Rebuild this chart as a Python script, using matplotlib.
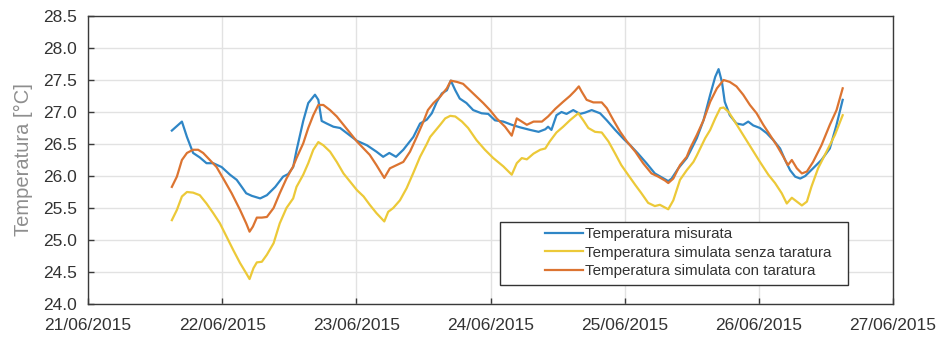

import numpy as np
import matplotlib
matplotlib.use('Agg')
import matplotlib.pyplot as plt
import matplotlib.dates as mdates
import pandas as pd
from matplotlib.patches import Rectangle

plt.rcParams['font.family'] = ['Liberation Sans', 'DejaVu Sans']

# Hours since 21/06/2015 00:00 and temperatures [°C]
ore_misurata = [15.0, 16.8, 17.7, 18.8, 20.0, 21.2, 22.4, 23.9, 25.4, 26.6, 27.5, 28.3, 29.3, 30.8,
                32.0, 33.5, 34.9, 35.8, 36.7, 37.3, 38.5, 39.4, 40.6, 41.2, 41.8, 42.7, 43.9, 45.1,
                46.3, 48.1, 49.9, 51.6, 52.8, 53.9, 55.1, 56.4, 58.2, 59.4, 60.6, 61.5, 62.4, 63.3,
                64.2, 64.9, 65.7, 66.5, 67.7, 68.9, 70.4, 71.6, 72.8, 74.3, 75.8, 77.3, 79.1, 80.6,
                81.8, 82.3, 82.9, 83.8, 84.7, 85.6, 86.8, 88.0, 88.9, 90.1, 91.6, 92.8, 94.3, 95.8,
                97.0, 98.4, 99.9, 101.4, 102.6, 103.8, 104.4, 105.6, 107.1, 107.7, 108.9, 110.1,
                111.3, 112.2, 112.8, 113.4, 113.9, 114.8, 116.0, 117.2, 118.1, 119.0, 120.2, 121.4,
                122.6, 123.8, 124.7, 125.6, 126.5, 127.4, 128.3, 129.7, 131.2, 132.7, 133.9, 135.0]
t_misurata = [26.71, 26.85, 26.61, 26.36, 26.29, 26.20, 26.20, 26.14, 26.02, 25.94, 25.83, 25.73, 25.69, 25.65,
              25.70, 25.83, 25.99, 26.03, 26.14, 26.40, 26.86, 27.14, 27.27, 27.19, 26.86, 26.82, 26.77, 26.75,
              26.67, 26.55, 26.48, 26.38, 26.30, 26.36, 26.30, 26.41, 26.61, 26.82, 26.88, 26.98, 27.16, 27.29,
              27.34, 27.49, 27.34, 27.21, 27.14, 27.03, 26.98, 26.97, 26.87, 26.85, 26.80, 26.76, 26.72, 26.69,
              26.73, 26.77, 26.72, 26.95, 27.00, 26.97, 27.03, 26.97, 26.99, 27.03, 26.98, 26.87, 26.72, 26.58,
              26.48, 26.35, 26.20, 26.04, 25.98, 25.92, 25.96, 26.12, 26.28, 26.38, 26.59, 26.87,
              27.27, 27.55, 27.67, 27.47, 27.16, 26.95, 26.82, 26.80, 26.85, 26.79, 26.75, 26.67,
              26.56, 26.43, 26.25, 26.09, 25.99, 25.96, 26.00, 26.12, 26.25, 26.43, 26.80, 27.19]

ore_senza = [15.0, 15.9, 16.8, 17.7, 18.8, 20.0, 21.2, 22.4, 23.6, 24.8, 26.0, 27.2, 28.3, 28.9,
             29.6, 30.2, 31.1, 32.0, 33.2, 34.3, 35.5, 36.7, 37.3, 38.5, 39.4, 40.3, 41.2, 42.1,
             43.3, 44.5, 45.7, 46.9, 48.1, 49.3, 50.4, 51.6, 53.0, 53.7, 54.6, 55.8, 57.0, 58.2,
             59.4, 60.6, 61.2, 63.0, 63.9, 64.8, 65.7, 66.9, 68.0, 69.5, 71.0, 72.5, 74.3, 75.8,
             76.7, 77.6, 78.5, 79.7, 80.9, 81.8, 82.6, 83.8, 85.0, 86.2, 87.7, 88.6, 89.5, 90.7,
             91.9, 93.1, 94.3, 95.4, 96.6, 97.9, 99.0, 100.2, 101.4, 102.3, 103.8, 104.7, 105.9,
             107.1, 108.3, 108.9, 110.4, 111.3, 112.2, 113.1, 113.7, 114.6, 115.7, 117.2, 118.7,
             120.2, 121.7, 122.9, 124.1, 125.0, 125.9, 126.8, 127.7, 128.6, 129.4, 130.6, 132.1,
             133.6, 135.0]
t_senza = [25.31, 25.47, 25.68, 25.75, 25.74, 25.70, 25.57, 25.42, 25.26, 25.05, 24.84, 24.64, 24.48, 24.39,
           24.56, 24.65, 24.66, 24.77, 24.95, 25.26, 25.50, 25.65, 25.83, 26.02, 26.20, 26.41, 26.53, 26.48,
           26.38, 26.22, 26.04, 25.91, 25.78, 25.68, 25.55, 25.42, 25.29, 25.44, 25.50, 25.62, 25.81, 26.05,
           26.30, 26.50, 26.61, 26.80, 26.90, 26.94, 26.93, 26.85, 26.75, 26.56, 26.41, 26.28, 26.15, 26.02,
           26.20, 26.28, 26.26, 26.35, 26.41, 26.43, 26.54, 26.68, 26.77, 26.87, 26.98, 26.87, 26.75, 26.69,
           26.68, 26.54, 26.35, 26.17, 26.02, 25.86, 25.73, 25.58, 25.53, 25.55, 25.48, 25.62, 25.94,
           26.09, 26.22, 26.32, 26.59, 26.72, 26.90, 27.06, 27.07, 27.00, 26.85, 26.64, 26.43,
           26.22, 26.02, 25.89, 25.73, 25.57, 25.66, 25.60, 25.54, 25.60, 25.83, 26.12, 26.38,
           26.64, 26.95]

ore_con = [15.0, 15.9, 16.8, 17.7, 18.8, 19.7, 20.6, 21.8, 23.0, 24.2, 25.7, 27.2, 28.3, 28.9,
           29.5, 30.2, 31.1, 32.0, 33.2, 34.3, 35.5, 36.7, 37.3, 38.5, 39.4, 40.3, 41.2, 42.1,
           43.3, 44.5, 45.7, 46.9, 48.1, 49.3, 50.4, 51.6, 53.0, 54.0, 55.2, 56.4, 57.6, 58.8,
           60.0, 60.8, 61.8, 63.0, 64.2, 64.9, 66.0, 67.1, 68.3, 69.5, 70.7, 71.9, 73.1, 74.6,
           75.8, 76.7, 77.6, 78.5, 79.7, 81.2, 82.3, 83.6, 85.0, 86.2, 87.1, 87.8, 88.3, 89.2,
           90.4, 91.9, 92.8, 94.0, 95.2, 96.4, 97.9, 99.3, 100.8, 102.0, 103.2, 103.8, 104.7,
           105.9, 107.1, 107.7, 108.9, 110.1, 111.3, 112.5, 113.7, 114.8, 116.0, 117.2, 118.4,
           119.6, 120.8, 122.0, 123.2, 124.4, 125.2, 125.9, 126.8, 127.7, 128.6, 129.7, 131.2,
           132.7, 133.9, 135.0]
t_con = [25.83, 25.99, 26.25, 26.36, 26.41, 26.41, 26.36, 26.25, 26.14, 25.96, 25.73, 25.47, 25.26, 25.13,
         25.21, 25.35, 25.35, 25.36, 25.50, 25.73, 25.96, 26.15, 26.28, 26.51, 26.75, 26.95, 27.11, 27.11,
         27.03, 26.93, 26.80, 26.67, 26.54, 26.43, 26.33, 26.17, 25.97, 26.12, 26.17, 26.22, 26.38, 26.61,
         26.85, 27.03, 27.14, 27.24, 27.37, 27.49, 27.47, 27.44, 27.34, 27.24, 27.14, 27.03, 26.90, 26.77,
         26.63, 26.90, 26.85, 26.80, 26.85, 26.85, 26.93, 27.05, 27.16, 27.25, 27.33, 27.40, 27.32, 27.19,
         27.15, 27.15, 27.06, 26.87, 26.69, 26.54, 26.38, 26.20, 26.04, 25.99, 25.93, 25.89, 25.96,
         26.17, 26.30, 26.43, 26.64, 26.87, 27.16, 27.37, 27.50, 27.47, 27.40, 27.27, 27.11,
         26.98, 26.80, 26.64, 26.48, 26.30, 26.17, 26.25, 26.12, 26.04, 26.07, 26.22, 26.48,
         26.80, 27.03, 27.37]

etichette = ['Temperatura misurata',
             'Temperatura simulata senza taratura',
             'Temperatura simulata con taratura']
colori = ['#2f86c6', '#ecc938', '#dc7431']

inizio = pd.Timestamp('2015-06-21')
def to_dates(ore):
    return inizio + pd.to_timedelta(np.array(ore), unit='h')

fig = plt.figure(figsize=(9.4, 3.42), dpi=100)
ax = fig.add_axes([88/940, 1-304/342, 805/940, 288/342])

ax.plot(to_dates(ore_misurata), t_misurata, color=colori[0], lw=1.6, label=etichette[0])
ax.plot(to_dates(ore_senza), t_senza, color=colori[1], lw=1.6, label=etichette[1])
ax.plot(to_dates(ore_con), t_con, color=colori[2], lw=1.6, label=etichette[2])

ax.set_xlim(pd.Timestamp('2015-06-21'), pd.Timestamp('2015-06-27'))
ax.set_ylim(24.0, 28.5)
ax.xaxis.set_major_locator(mdates.DayLocator())
ax.xaxis.set_major_formatter(mdates.DateFormatter('%d/%m/%Y'))
ax.set_yticks(np.arange(24.0, 28.51, 0.5))
ax.yaxis.set_major_formatter(matplotlib.ticker.FormatStrFormatter('%.1f'))

ax.grid(True, color='#e2e2e2', lw=1.0)
ax.set_axisbelow(True)
for s in ax.spines.values():
    s.set_color('#3a3a3a')
    s.set_linewidth(1.0)
ax.tick_params(axis='both', direction='in', length=4, width=1, color='#3a3a3a',
               labelcolor='#333333', labelsize=12.5)
ax.tick_params(axis='x', pad=10)
ax.tick_params(axis='y', pad=8)

ax.set_ylabel('Temperatura [°C]', fontsize=14.5, color='#8e8e8e', labelpad=7)

# legend box drawn separately so the entries sit to the right inside it
ax.add_patch(Rectangle((0.512, 0.066), 0.432, 0.219, transform=ax.transAxes,
                       facecolor='white', edgecolor='#333333', lw=1.0, zorder=4))
leg = ax.legend(loc='center left', bbox_to_anchor=(0.568, 0.178), frameon=False,
                borderpad=0, borderaxespad=0, handlelength=2.5, handletextpad=0.15,
                labelspacing=0.3, fontsize=10.9)
leg.set_zorder(5)
for txt in leg.get_texts():
    txt.set_color('#333333')

fig.savefig('out.png', dpi=100)
